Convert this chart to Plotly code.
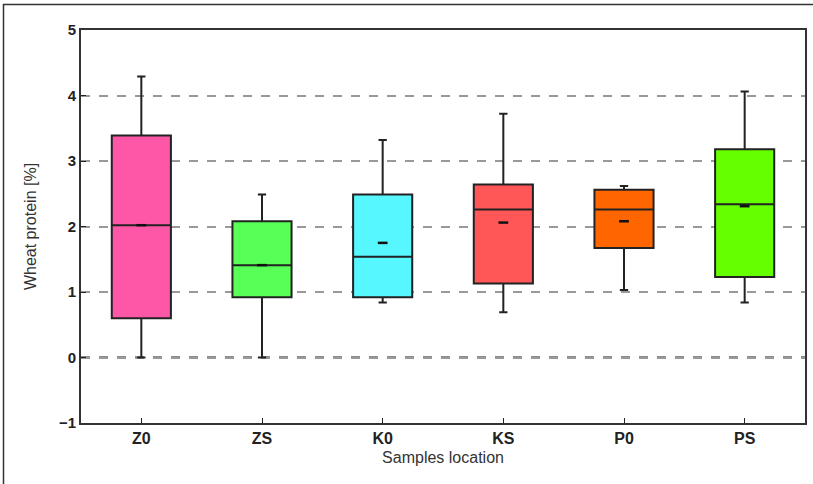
import plotly.graph_objects as go

categories = ["Z0", "ZS", "K0", "KS", "P0", "PS"]
lower = [0.00, 0.00, 0.84, 0.69, 1.03, 0.84]
q1 = [0.60, 0.92, 0.92, 1.13, 1.67, 1.23]
median = [2.02, 1.41, 1.54, 2.26, 2.26, 2.34]
q3 = [3.39, 2.08, 2.49, 2.64, 2.56, 3.18]
upper = [4.29, 2.49, 3.32, 3.72, 2.62, 4.06]
mean = [2.02, 1.41, 1.75, 2.06, 2.08, 2.31]
colors = ["#FF57A8", "#57FF57", "#57F7FF", "#FF5757", "#FF6600", "#66FF00"]
y_ticks = [-1, 0, 1, 2, 3, 4, 5]

W, H = 813, 484
ml, mr, mt, mb = 81, 8, 30, 61
pw, ph = W - ml - mr, H - mt - mb

fig = go.Figure()
for i, c in enumerate(categories):
    fig.add_trace(go.Box(
        x=[c], q1=[q1[i]], median=[median[i]], q3=[q3[i]],
        lowerfence=[lower[i]], upperfence=[upper[i]],
        fillcolor=colors[i], line=dict(color="#222222", width=2),
        width=0.49, whiskerwidth=0.14, boxpoints=False,
        hoverinfo="skip", showlegend=False,
    ))

fig.add_trace(go.Scatter(
    x=categories, y=mean, mode="markers",
    marker=dict(symbol="line-ew", size=7, line=dict(color="#111111", width=2.5)),
    showlegend=False, hoverinfo="skip",
))

font_family = "Liberation Sans, Arial, sans-serif"
fig.update_layout(
    width=W, height=H,
    margin=dict(l=ml, r=mr, t=mt, b=mb),
    paper_bgcolor="white", plot_bgcolor="white",
    boxmode="overlay",
    font=dict(family=font_family, color="#222222"),
    xaxis=dict(
        range=[-0.5, 5.5], showgrid=False, ticks="inside", ticklen=5,
        tickcolor="#222222", showline=True, linecolor="#333333", linewidth=2,
        mirror=True, automargin=False,
        tickfont=dict(size=16, family="Liberation Sans Narrow, Liberation Sans, Arial", color="#222222", weight="bold"),
        title=dict(text="Samples location", font=dict(size=16, color="#333333"), standoff=6),
        zeroline=False,
    ),
    yaxis=dict(
        range=[-1, 5], tickvals=y_ticks, ticks="inside", ticklen=5,
        tickcolor="#222222", showline=True, linecolor="#333333", linewidth=2,
        mirror=True, showgrid=True, gridcolor="#999999", gridwidth=1.5, griddash="dash",
        automargin=False,
        tickfont=dict(size=15, color="#222222", weight="bold"),
        title=dict(text="Wheat protein [%]", font=dict(size=16, color="#333333"), standoff=18),
        zeroline=False,
    ),
)

fig.add_hline(y=0, line=dict(color="#666666", width=2.5, dash="dash"), layer="below")
fig.add_shape(type="rect", xref="paper", yref="paper",
              x0=-(ml - 3.5) / pw, x1=(W - ml + 10) / pw,
              y0=-(mb + 10) / ph, y1=1 + (mt - 4.5) / ph,
              line=dict(color="#333333", width=1.5), fillcolor="rgba(0,0,0,0)")

fig.write_html("out.html", config={"displayModeBar": False},
               post_script="document.body.style.margin='0';document.body.style.overflow='hidden';")
